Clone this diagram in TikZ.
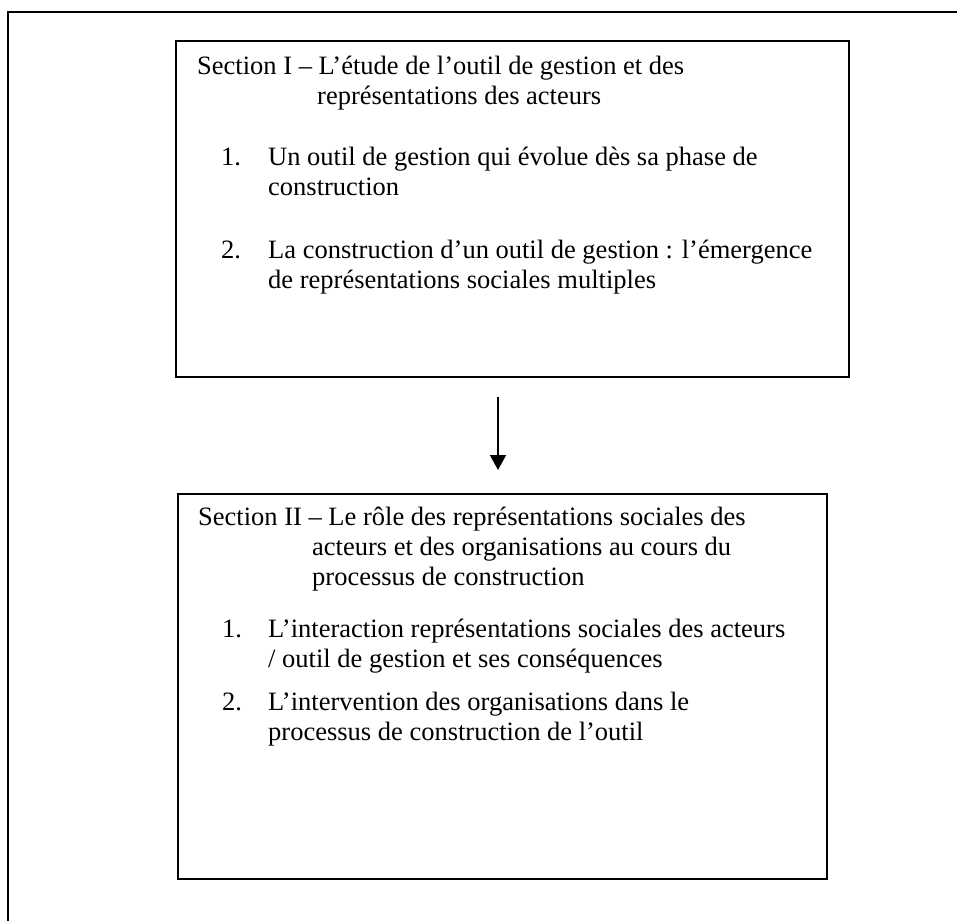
\documentclass[tikz,border=0pt]{standalone}
\usepackage{fontspec}
\setmainfont{Liberation Serif}
\usetikzlibrary{arrows.meta}
\begin{document}
\begin{tikzpicture}[x=1pt,y=-1pt,
  frame/.style={draw=black,line width=1.6pt},
  boxx/.style={draw=black,line width=1.6pt,rectangle,inner sep=0pt,anchor=north west},
  txt/.style={anchor=base west,inner sep=0pt,font=\fontsize{26.5pt}{30.5pt}\selectfont},
  conn/.style={line width=1.6pt,-{Triangle[width=16pt,length=15pt]}}]
\useasboundingbox (0,0) rectangle (957,920);
% outer frame (open at right and bottom)
\coordinate (fr) at (960,12);
\coordinate (fc) at (8,12);
\coordinate (fb) at (8,925);
\draw[frame] (fr) -- (fc) -- (fb);
% boxes
\node[boxx,minimum width=673pt,minimum height=336pt] (box1) at (175,40) {};
\node[boxx,minimum width=649pt,minimum height=385pt] (box2) at (177,493) {};
% texts box 1
\node[txt] (t1a) at (197,75) {Section I – L’étude de l’outil de gestion et des};
\node[txt] (t1b) at (317,105) {représentations des acteurs};
\node[txt] (n11) at (221,165) {1.};
\node[txt] (t11a) at (268,165) {Un outil de gestion qui évolue dès sa phase de};
\node[txt] (t11b) at (268,195) {construction};
\node[txt] (n12) at (221,258) {2.};
\node[txt] (t12a) at (268,258) {La construction d’un outil de gestion : l’émergence};
\node[txt] (t12b) at (268,288) {de représentations sociales multiples};
% texts box 2
\node[txt] (t2a) at (198,525) {Section II – Le rôle des représentations sociales des};
\node[txt] (t2b) at (312,555) {acteurs et des organisations au cours du};
\node[txt] (t2c) at (312,585) {processus de construction};
\node[txt] (n21) at (222,637) {1.};
\node[txt] (t21a) at (268,637) {L’interaction représentations sociales des acteurs};
\node[txt] (t21b) at (268,667) {/ outil de gestion et ses conséquences};
\node[txt] (n22) at (222,710) {2.};
\node[txt] (t22a) at (268,710) {L’intervention des organisations dans le};
\node[txt] (t22b) at (268,740) {processus de construction de l’outil};
% arrow
\coordinate (a1) at (498,397);
\coordinate (a2) at (498,470);
\draw[conn] (a1) -- (a2);
\end{tikzpicture}
\end{document}
